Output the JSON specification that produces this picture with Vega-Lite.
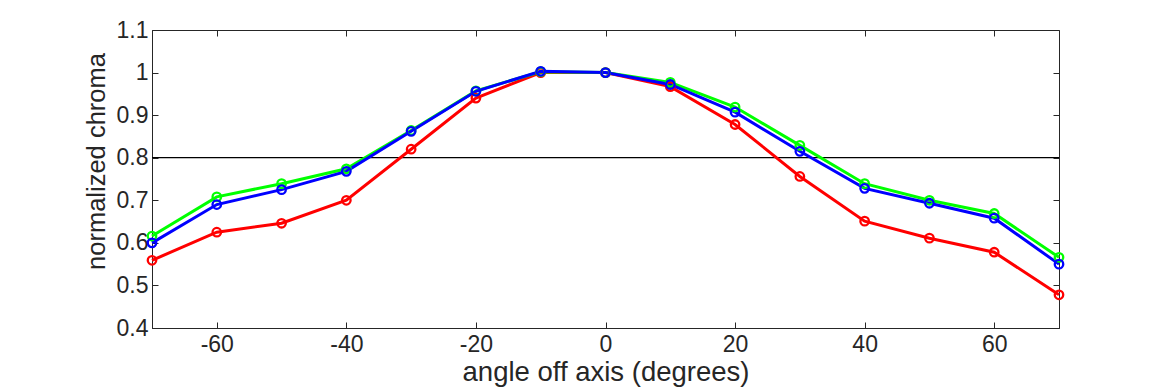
{
  "$schema": "https://vega.github.io/schema/vega-lite/v6.json",
  "width": 907,
  "height": 298,
  "autosize": {"type": "none"},
  "padding": {"left": 152, "top": 30, "right": 111, "bottom": 62},
  "background": "white",
  "config": {
    "view": {"stroke": "#262626", "strokeWidth": 1},
    "font": "Liberation Sans",
    "axis": {
      "grid": false,
      "domainColor": "#262626",
      "tickColor": "#262626",
      "labelColor": "#262626",
      "titleColor": "#262626",
      "labelFont": "Liberation Sans",
      "titleFont": "Liberation Sans",
      "labelFontSize": 23,
      "titleFontSize": 26,
      "titleFontWeight": "normal",
      "tickSize": -6
    }
  },
  "datasets": {
    "chroma": [
      {"angle": -70, "series": "R", "value": 0.559},
      {"angle": -60, "series": "R", "value": 0.625},
      {"angle": -50, "series": "R", "value": 0.646},
      {"angle": -40, "series": "R", "value": 0.700},
      {"angle": -30, "series": "R", "value": 0.820},
      {"angle": -20, "series": "R", "value": 0.940},
      {"angle": -10, "series": "R", "value": 1.000},
      {"angle": 0, "series": "R", "value": 1.000},
      {"angle": 10, "series": "R", "value": 0.967},
      {"angle": 20, "series": "R", "value": 0.878},
      {"angle": 30, "series": "R", "value": 0.756},
      {"angle": 40, "series": "R", "value": 0.651},
      {"angle": 50, "series": "R", "value": 0.611},
      {"angle": 60, "series": "R", "value": 0.578},
      {"angle": 70, "series": "R", "value": 0.478},
      {"angle": -70, "series": "G", "value": 0.616},
      {"angle": -60, "series": "G", "value": 0.708},
      {"angle": -50, "series": "G", "value": 0.739},
      {"angle": -40, "series": "G", "value": 0.774},
      {"angle": -30, "series": "G", "value": 0.864},
      {"angle": -20, "series": "G", "value": 0.957},
      {"angle": -10, "series": "G", "value": 1.002},
      {"angle": 0, "series": "G", "value": 1.000},
      {"angle": 10, "series": "G", "value": 0.977},
      {"angle": 20, "series": "G", "value": 0.919},
      {"angle": 30, "series": "G", "value": 0.829},
      {"angle": 40, "series": "G", "value": 0.739},
      {"angle": 50, "series": "G", "value": 0.700},
      {"angle": 60, "series": "G", "value": 0.669},
      {"angle": 70, "series": "G", "value": 0.566},
      {"angle": -70, "series": "B", "value": 0.600},
      {"angle": -60, "series": "B", "value": 0.690},
      {"angle": -50, "series": "B", "value": 0.725},
      {"angle": -40, "series": "B", "value": 0.768},
      {"angle": -30, "series": "B", "value": 0.862},
      {"angle": -20, "series": "B", "value": 0.956},
      {"angle": -10, "series": "B", "value": 1.003},
      {"angle": 0, "series": "B", "value": 1.000},
      {"angle": 10, "series": "B", "value": 0.972},
      {"angle": 20, "series": "B", "value": 0.907},
      {"angle": 30, "series": "B", "value": 0.815},
      {"angle": 40, "series": "B", "value": 0.728},
      {"angle": 50, "series": "B", "value": 0.693},
      {"angle": 60, "series": "B", "value": 0.658},
      {"angle": 70, "series": "B", "value": 0.550}
    ],
    "threshold": [{"y": 0.8}]
  },
  "layer": [
    {
      "data": {"name": "threshold"},
      "mark": {"type": "rule", "color": "black", "strokeWidth": 1.2},
      "encoding": {
        "y": {"field": "y", "type": "quantitative", "scale": {"domain": [0.4, 1.1], "nice": false},
              "axis": {"orient": "right", "labels": false, "title": null, "values": [0.4,0.5,0.6,0.7,0.8,0.9,1.0,1.1], "domain": false}}
      }
    },
    {
      "data": {"name": "chroma"},
      "mark": {"type": "line", "strokeWidth": 3},
      "encoding": {
        "x": {"field": "angle", "type": "quantitative", "scale": {"domain": [-70, 70], "nice": false},
              "axis": {"orient": "top", "labels": false, "title": null, "values": [-60,-40,-20,0,20,40,60], "domain": false}},
        "y": {"field": "value", "type": "quantitative", "scale": {"domain": [0.4, 1.1], "nice": false},
              "axis": {"orient": "left", "title": "normalized chroma", "values": [0.4,0.5,0.6,0.7,0.8,0.9,1.0,1.1],
                       "labelExpr": "'' + datum.value", "labelPadding": 10, "titlePadding": 7, "titleY": 131, "titleFontSize": 25.5}},
        "color": {"field": "series", "type": "nominal", "scale": {"domain": ["R","G","B"], "range": ["#ff0000","#00ff00","#0000ff"]}, "legend": null},
        "detail": {"field": "series"}
      }
    },
    {
      "data": {"name": "chroma"},
      "mark": {"type": "point", "filled": false, "size": 72, "strokeWidth": 2.3, "opacity": 1},
      "encoding": {
        "x": {"field": "angle", "type": "quantitative", "scale": {"domain": [-70, 70], "nice": false},
              "axis": {"orient": "bottom", "title": "angle off axis (degrees)", "values": [-60,-40,-20,0,20,40,60],
                       "labelExpr": "'' + datum.value", "labelPadding": 11, "titlePadding": 2, "titleFontSize": 27.5}},
        "y": {"field": "value", "type": "quantitative", "scale": {"domain": [0.4, 1.1], "nice": false}, "axis": null},
        "color": {"field": "series", "type": "nominal", "scale": {"domain": ["R","G","B"], "range": ["#ff0000","#00ff00","#0000ff"]}, "legend": null}
      }
    }
  ],
  "resolve": {"axis": {"x": "independent", "y": "independent"}}
}
